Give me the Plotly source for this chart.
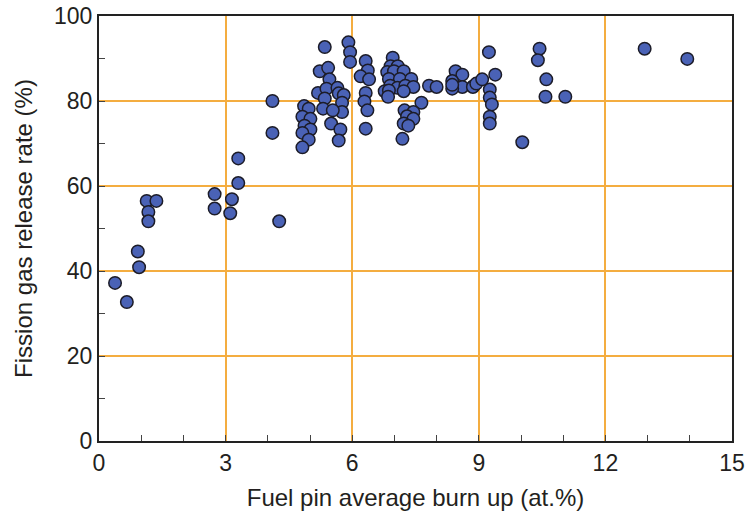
import plotly.graph_objects as go

burnup = [0.38, 0.66, 0.92, 0.95, 1.13, 1.36, 1.17, 1.17,
          2.74, 2.74, 3.15, 3.11, 3.30, 3.30, 4.11, 4.11, 4.27,
          5.35, 5.91, 5.95, 5.95, 5.23, 5.43, 5.46, 5.19, 5.39, 5.35, 5.31,
          5.65, 5.68, 5.80, 5.76, 5.76, 5.54, 5.50, 5.72, 5.68,
          4.86, 4.97, 4.82, 5.01, 4.87, 5.01, 4.82, 4.97, 4.82,
          6.32, 6.37, 6.20, 6.40, 6.32, 6.29, 6.36, 6.32,
          6.96, 6.91, 7.08, 6.83, 6.99, 7.22, 6.87, 7.13, 7.40, 6.90, 7.07, 7.26, 7.45,
          6.77, 6.87, 7.22, 6.85, 7.64, 7.24, 7.45, 7.30, 7.45, 7.22, 7.33, 7.19,
          7.82, 8.00, 8.45, 8.61, 8.37, 8.61, 8.37, 8.37, 8.87, 8.86, 8.94, 9.08,
          9.24, 9.39, 9.26, 9.26, 9.31, 9.26, 9.26,
          10.03, 10.44, 10.40, 10.60, 10.58, 11.05, 12.93, 13.94]
release = [37.2, 32.7, 44.6, 40.9, 56.5, 56.5, 53.9, 51.7,
           58.1, 54.7, 56.9, 53.6, 60.7, 66.5, 80.0, 72.5, 51.7,
           92.7, 93.8, 91.5, 89.2, 87.0, 87.8, 85.1, 81.9, 82.9, 80.6, 78.2,
           83.1, 81.8, 81.4, 79.6, 77.4, 77.8, 74.7, 73.3, 70.7,
           78.8, 78.2, 76.3, 75.8, 74.2, 73.3, 72.5, 70.9, 69.1,
           89.4, 87.2, 85.8, 85.1, 81.9, 79.9, 77.8, 73.5,
           90.2, 88.2, 88.2, 86.8, 87.0, 87.0, 85.2, 85.2, 85.2, 83.6, 83.1, 83.6, 83.3,
           82.3, 82.5, 82.3, 81.0, 79.6, 77.8, 77.4, 76.4, 75.8, 74.7, 74.2, 71.1,
           83.6, 83.3, 87.0, 86.2, 84.7, 83.3, 82.9, 83.8, 83.5, 83.3, 84.1, 85.1,
           91.5, 86.2, 82.7, 80.8, 79.2, 76.3, 74.7,
           70.3, 92.3, 89.6, 85.1, 81.0, 81.0, 92.3, 89.9]

x_ticks = [0, 3, 6, 9, 12, 15]
y_ticks = [0, 20, 40, 60, 80, 100]

font_family = "Liberation Sans, Arial, sans-serif"
text_col = "#231f20"

fig = go.Figure(go.Scatter(
    x=burnup, y=release, mode="markers",
    marker=dict(size=12.5, color="#4a62b6", line=dict(color="#1c1c28", width=1.5)),
    showlegend=False,
))

grid_col = "#f4ad40"
fig.update_xaxes(
    range=[0, 15], tickvals=x_ticks, ticks="inside", ticklen=6, tickcolor="#444",
    showgrid=True, gridcolor=grid_col, gridwidth=1.5,
    showline=True, linecolor="#222", linewidth=2, mirror=True, zeroline=False,
    minor=dict(dtick=1, ticks="inside", ticklen=6, tickcolor="#444", showgrid=False),
    title=dict(text="Fuel pin average burn up (at.%)", font=dict(size=24, color=text_col, family=font_family)),
    tickfont=dict(size=23, color=text_col, family=font_family),
    automargin=False,
)
fig.update_yaxes(
    range=[0, 100], tickvals=y_ticks, ticks="inside", ticklen=6, tickcolor="#444",
    showgrid=True, gridcolor=grid_col, gridwidth=1.5,
    showline=True, linecolor="#222", linewidth=2, mirror=True, zeroline=False,
    minor=dict(dtick=10, ticks="inside", ticklen=6, tickcolor="#444", showgrid=False),
    title=dict(text="Fission gas release rate (%)", font=dict(size=24, color=text_col, family=font_family)),
    tickfont=dict(size=23, color=text_col, family=font_family),
    automargin=False,
)
fig.update_layout(
    width=747, height=516,
    margin=dict(l=99, r=15, t=16, b=75),
    plot_bgcolor="white", paper_bgcolor="white",
)
fig.write_html("out.html")
